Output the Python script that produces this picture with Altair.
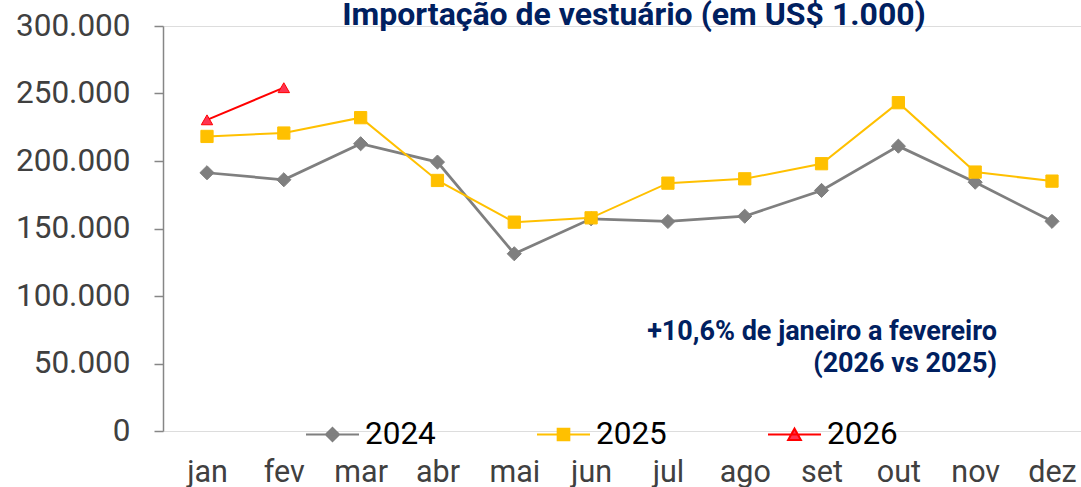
import altair as alt
import pandas as pd

months = ["jan", "fev", "mar", "abr", "mai", "jun", "jul", "ago", "set", "out", "nov", "dez"]
years = ["2024", "2025", "2026"]
v2024 = [191300, 186100, 212800, 199200, 131300, 157200, 155200, 159100, 178200, 211000, 184300, 155300]
v2025 = [218200, 220700, 232100, 185600, 154700, 157900, 183600, 186800, 198000, 243200, 191800, 185100]
v2026 = [230500, 254300]
y_ticks = [0, 50000, 100000, 150000, 200000, 250000, 300000]
title_text = "Importação de vestuário (em US$ 1.000)"
note_lines = ["+10,6% de janeiro a fevereiro", "(2026 vs 2025)"]

rows = []
for yr, vals in zip(years, [v2024, v2025, v2026]):
    for m, v in zip(months, vals):
        rows.append({"mes": m, "ano": yr, "valor": v})
df = pd.DataFrame(rows)

line_colors = ["#7F7F7F", "#FFC000", "#FF0000"]
fill_colors = ["#7F7F7F", "#FFC000", "#FF3350"]
point_shapes = ["diamond", "square", "triangle-up"]
point_sizes = [200, 150, 130]
line_widths = [2.75, 2, 2]
legend_paths = [
    "M-1,0H1M0,-0.25L0.25,0L0,0.25L-0.25,0Z",
    "M-1,0H1M-0.22,-0.22H0.22V0.22H-0.22Z",
    "M-1,0H1M-0.24,0.21L0.24,0.21L0,-0.22Z",
]

x_enc = alt.X(
    "mes:N",
    sort=months,
    scale=alt.Scale(type="point", domain=months, range=[44, 889], padding=0),
    axis=alt.Axis(domain=False, ticks=False, tickSize=0, grid=False, labelAngle=0,
                  labelFont="Roboto", labelFontSize=30.5, labelColor="#404040",
                  labelPadding=26, title=None),
)
y_enc = alt.Y(
    "valor:Q",
    scale=alt.Scale(domain=[0, 300000], nice=False, zero=True),
    axis=alt.Axis(values=y_ticks, grid=False, title=None,
                  labelExpr="replace(format(datum.value, ',.0f'), ',', '.')",
                  domainColor="#868686", tickColor="#868686", domainWidth=1.5, tickWidth=1.5,
                  tickSize=9, labelFont="Roboto", labelFontSize=31.5, labelColor="#404040",
                  labelPadding=24),
)

layers = []
for i, yr in enumerate(years):
    base = alt.Chart(df).transform_filter(alt.datum.ano == yr)
    layers.append(base.mark_line(color=line_colors[i], strokeWidth=line_widths[i]).encode(x=x_enc, y=y_enc))
    layers.append(base.mark_point(shape=point_shapes[i], size=point_sizes[i], filled=True,
                                  fill=fill_colors[i], stroke=line_colors[i], strokeWidth=1,
                                  opacity=1).encode(x=x_enc, y=y_enc))

leg = alt.Legend(orient="none", direction="horizontal", legendX=142, legendY=381, title=None,
                 symbolSize=2809, symbolStrokeWidth=2, symbolOpacity=1, labelFont="Roboto",
                 labelFontSize=31.5, labelColor="#000000", labelOffset=5, columnPadding=97, padding=0)
legend_layer = alt.Chart(df).transform_filter("false").mark_point(filled=True, strokeWidth=2, opacity=1).encode(
    shape=alt.Shape("ano:N", scale=alt.Scale(domain=years, range=legend_paths), legend=leg),
    fill=alt.Fill("ano:N", scale=alt.Scale(domain=years, range=fill_colors), legend=leg),
    stroke=alt.Stroke("ano:N", scale=alt.Scale(domain=years, range=line_colors), legend=leg),
)

note = alt.Chart(pd.DataFrame({"k": [0]})).mark_text(
    text=note_lines, align="right", baseline="alphabetic", font="Roboto", fontSize=27,
    fontWeight="bold", color="#002060", lineHeight=32,
).encode(x=alt.value(834), y=alt.value(314))

chart = alt.layer(*layers, legend_layer, note).properties(
    width=918, height=405,
    title=alt.TitleParams(title_text, font="Roboto", fontSize=32, fontWeight="bold",
                          color="#002060", anchor="middle", frame="group", offset=-22, dx=12),
    padding={"left": 163, "top": 26, "right": 0, "bottom": 56},
    autosize=alt.AutoSizeParams(type="none"),
).configure_view(stroke=None).configure(background="white")

chart.save("out.html", embed_options={"renderer": "svg", "actions": False})
